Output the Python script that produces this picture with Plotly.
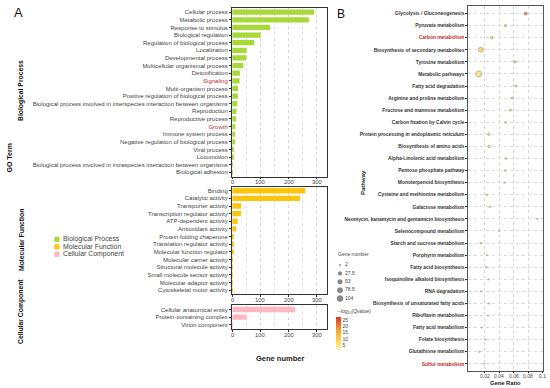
import plotly.graph_objects as go
import numpy as np

W, H = 550, 388
FONT = "Liberation Sans, Arial, sans-serif"
RED = "#c62828"

# ---------------- Panel A data ----------------
bp_terms = ["Cellular process", "Metabolic process", "Response to stimulus", "Biological regulation",
            "Regulation of biological process", "Localization", "Developmental process",
            "Multicellular organismal process", "Detoxification", "Signaling", "Multi-organism process",
            "Positive regulation of biological process",
            "Biological process involved in interspecies interaction between organisms",
            "Reproduction", "Reproductive process", "Growth", "Immune system process",
            "Negative regulation of biological process", "Viral process", "Locomotion",
            "Biological process involved in intraspecies interaction between organisms",
            "Biological adhesion"]
bp_counts = [292, 273, 134, 101, 78, 51, 50, 39, 27, 26, 21, 20, 18, 15, 13, 11, 10, 10, 5, 2, 1, 1]

mf_terms = ["Binding", "Catalytic activity", "Transporter activity", "Transcription regulator activity",
            "ATP-dependent activity", "Antioxidant activity", "Protein folding chaperone",
            "Translation regulator activity", "Molecular function regulator", "Molecular carrier activity",
            "Structural molecule activity", "Small molecule sensor activity", "Molecular adaptor activity",
            "Cytoskeletal motor activity"]
mf_counts = [260, 241, 32, 31, 19, 14, 3, 3, 4, 1, 1, 1, 1, 1]

cc_terms = ["Cellular anatomical entity", "Protein-containing complex", "Virion component"]
cc_counts = [223, 51, 1]

red_terms = ["Signaling", "Growth"]
go_groups = ["Biological Process", "Molecular Function", "Cellular Component"]
go_colors = ["#a8d93a", "#fcc60f", "#ffb8c0"]
gene_ticks = [0, 100, 200, 300]

# ---------------- Panel B data ----------------
pathways = ["Glycolysis / Gluconeogenesis", "Pyruvate metabolism", "Carbon metabolism",
            "Biosynthesis of secondary metabolites", "Tyrosine metabolism", "Metabolic pathways",
            "Fatty acid degradation", "Arginine and proline metabolism", "Fructose and mannose metabolism",
            "Carbon fixation by Calvin cycle", "Protein processing in endoplasmic reticulum",
            "Biosynthesis of amino acids", "Alpha-Linolenic acid metabolism", "Pentose phosphate pathway",
            "Monoterpenoid biosynthesis", "Cysteine and methionine metabolism", "Galactose metabolism",
            "Neomycin, kanamycin and gentamicin biosynthesis", "Selenocompound metabolism",
            "Starch and sucrose metabolism", "Porphyrin metabolism", "Fatty acid biosynthesis",
            "Isoquinoline alkaloid biosynthesis", "RNA degradation",
            "Biosynthesis of unsaturated fatty acids", "Riboflavin metabolism", "Fatty acid metabolism",
            "Folate biosynthesis", "Glutathione metabolism", "Sulfur metabolism"]
gene_ratio = [0.077, 0.049, 0.030, 0.015, 0.062, 0.012, 0.063, 0.058, 0.0556, 0.049,
              0.026, 0.0266, 0.0497, 0.0487, 0.0473, 0.023, 0.0276, 0.093, 0.0404, 0.015,
              0.023, 0.0225, 0.0258, 0.0152, 0.0266, 0.0248, 0.0161, 0.0211, 0.0128, 0.0193]
gene_count = [13, 6, 8, 60, 4, 104, 4, 4, 4, 4, 6, 7, 3, 3, 2, 3, 3, 2, 2, 3,
              2, 2, 2, 2, 2, 2, 2, 2, 2, 2]
neg_log_q = [27, 12, 11, 10, 9, 8.5, 8, 7.5, 7, 6.5, 6, 6, 5.5, 5.5, 5, 5, 4.5, 4.5, 4, 4,
             3.8, 3.6, 3.4, 3.2, 3, 2.9, 2.8, 2.7, 2.6, 2.5]
red_pathways = ["Carbon metabolism", "Sulfur metabolism"]
size_legend_vals = [2, 27.5, 53, 78.5, 104]
q_ticks = [5, 10, 15, 20, 25]
ratio_ticks = [0.02, 0.04, 0.06, 0.08, 0.1]
ratio_labels = ["0.02", "0.04", "0.06", "0.08", "0.1"]


def fx(px):
    return px / W


def fy(py):
    return 1 - py / H


def size_px(n):
    n = np.asarray(n, dtype=float)
    return 1.5 + 4.6 * np.sqrt((n - 2) / 102.0)


def lab(t, reds):
    return f"<span style='color:{RED}'>{t}</span>" if t in reds else t


fig = go.Figure()
layout = dict(width=W, height=H, margin=dict(l=0, r=0, t=0, b=0),
              paper_bgcolor="white", plot_bgcolor="rgba(0,0,0,0)", showlegend=False,
              font=dict(family=FONT, color="#333"))

# panel A layout in pixels (top, bottom)
panels = [(8, 176.5), (186.5, 294.3), (305.3, 329)]
strip_centers = [91, 240, 312]
groups = [(bp_terms, bp_counts), (mf_terms, mf_counts), (cc_terms, cc_counts)]
annotations = []
shapes = []

for i, ((terms, counts), (top, bot), col) in enumerate(zip(groups, panels, go_colors)):
    xa = "x" if i == 0 else f"x{i+1}"
    ya = "y" if i == 0 else f"y{i+1}"
    n = len(terms)
    fig.add_trace(go.Bar(x=counts, y=list(range(n)), orientation="h", width=0.7,
                         marker=dict(color=col, line=dict(width=0)),
                         xaxis=xa, yaxis=ya, hoverinfo="x+y"))
    xkey = "xaxis" if i == 0 else f"xaxis{i+1}"
    ykey = "yaxis" if i == 0 else f"yaxis{i+1}"
    layout[xkey] = dict(domain=[fx(231.8), fx(327.3)], range=[-1.8, 338], anchor=ya,
                        tickvals=gene_ticks, ticks="outside", ticklen=2, tickwidth=0.6,
                        tickcolor="#333", showticklabels=False,
                        showline=True, mirror=True, linecolor="#333", linewidth=0.7,
                        showgrid=True, gridcolor="#d6d6d6", griddash="dot", gridwidth=0.6,
                        minor=dict(dtick=50, showgrid=True, gridcolor="#e2e2e2", griddash="dot",
                                   gridwidth=0.5),
                        zeroline=False)
    layout[ykey] = dict(domain=[fy(bot), fy(top)], range=[n - 1 + 0.55, -0.55], anchor=xa,
                        tickvals=list(range(n)), ticktext=[lab(t, red_terms) for t in terms],
                        ticks="outside", ticklen=2, tickwidth=0.6, tickcolor="#333",
                        tickfont=dict(size=6, color="#444"), showgrid=False,
                        showline=True, mirror=True, linecolor="#333", linewidth=0.7,
                        zeroline=False)
    for t in gene_ticks:
        annotations.append(dict(text=str(t), x=t, xref=xa, y=fy(bot + 5.6), yref="paper",
                                showarrow=False, font=dict(size=5.8, color="#444")))
    annotations.append(dict(text=f"<b>{go_groups[i]}</b>", x=fx(21), y=fy(strip_centers[i]),
                            showarrow=False, textangle=-90,
                            font=dict(size=6.8, color="#111")))

# legend A
for i, (g, c) in enumerate(zip(go_groups, go_colors)):
    yc = 239.3 + i * 7.5
    shapes.append(dict(type="rect", xref="paper", yref="paper", x0=fx(54.3), x1=fx(59.5),
                       y0=fy(yc + 2.6), y1=fy(yc - 2.6), fillcolor=c, line=dict(width=0)))
    annotations.append(dict(text=g, x=fx(60.5), y=fy(yc), xanchor="left", showarrow=False,
                            font=dict(size=6.9, color="#444")))

annotations += [
    dict(text="A", x=fx(12), y=fy(12.5), xanchor="left", showarrow=False,
         font=dict(size=13, color="#111")),
    dict(text="<b>GO Term</b>", x=fx(8.5), y=fy(158), textangle=-90, showarrow=False,
         font=dict(size=7, color="#111")),
    dict(text="<b>Gene number</b>", x=fx(279.7), y=fy(358.7), showarrow=False,
         font=dict(size=7.5, color="#222")),
]

# ---------------- Panel B ----------------
colorscale = [[0, "#fff3b8"], [0.3, "#f8d54e"], [0.6, "#f5a332"], [1, "#db3a26"]]
npw = len(pathways)
fig.add_trace(go.Scatter(
    x=gene_ratio, y=list(range(npw)), mode="markers", xaxis="x4", yaxis="y4",
    marker=dict(size=size_px(gene_count), color=neg_log_q, colorscale=colorscale,
                cmin=1, cmax=27.2, line=dict(width=0.5, color="#5f5a30"),
                colorbar=dict(x=fx(336), xanchor="left", y=fy(333.7), yanchor="middle",
                              len=32.7 / H, lenmode="fraction", thickness=4.5, outlinewidth=0,
                              xpad=0, ypad=0, tickvals=q_ticks, ticks="",
                              tickfont=dict(size=5, color="#444"))),
    text=pathways, hoverinfo="x+text"))

layout["xaxis4"] = dict(domain=[fx(467.7), fx(543)], range=[-0.0032, 0.1007], anchor="y4",
                        tickvals=ratio_ticks, ticks="outside", ticklen=1.5,
                        tickwidth=0.5, tickcolor="#333", showticklabels=False,
                        showline=True, mirror=True, linecolor="#555", linewidth=0.6,
                        showgrid=True, gridcolor="#d8d8d8", griddash="dot", gridwidth=0.5,
                        zeroline=False)
layout["yaxis4"] = dict(domain=[fy(370.5), fy(6.3)], range=[npw - 1 + 0.55, -0.6], anchor="x4",
                        tickvals=list(range(npw)),
                        ticktext=[f"<b>{lab(p, red_pathways)}</b>" for p in pathways],
                        ticks="outside", ticklen=1.5, tickwidth=0.5, tickcolor="#333",
                        tickfont=dict(size=4.9, color="#333"),
                        showline=True, mirror=True, linecolor="#555", linewidth=0.6,
                        showgrid=True, gridcolor="#dcdcdc", griddash="dot", gridwidth=0.5,
                        zeroline=False)
for v, t in zip(ratio_ticks, ratio_labels):
    annotations.append(dict(text=t, x=v, xref="x4", y=fy(375.6), yref="paper",
                            showarrow=False, font=dict(size=5, color="#444")))

# size legend (overlay axis in pixel units)
leg_y = [265 + 8.4 * i for i in range(len(size_legend_vals))]
fig.add_trace(go.Scatter(x=[340] * len(size_legend_vals), y=leg_y, mode="markers",
                         xaxis="x5", yaxis="y5", hoverinfo="skip",
                         marker=dict(size=size_px(size_legend_vals), color="#555",
                                     line=dict(width=0.3, color="#333"))))
fig.add_trace(go.Scatter(x=[345] * len(size_legend_vals), y=leg_y, mode="text",
                         text=[f"{v:g}" for v in size_legend_vals], textposition="middle right",
                         xaxis="x5", yaxis="y5", hoverinfo="skip",
                         textfont=dict(size=5, color="#444", family=FONT)))
layout["xaxis5"] = dict(domain=[fx(330), fx(400)], range=[330, 400], visible=False, anchor="y5",
                        fixedrange=True)
layout["yaxis5"] = dict(domain=[fy(305), fy(258)], range=[305, 258], visible=False, anchor="x5",
                        fixedrange=True)

annotations += [
    dict(text="B", x=fx(334.5), y=fy(14), xanchor="left", showarrow=False,
         font=dict(size=12, color="#111")),
    dict(text="<b>Pathway</b>", x=fx(363), y=fy(183), textangle=-90, showarrow=False,
         font=dict(size=6, color="#222")),
    dict(text="<b>Gene Ratio</b>", x=fx(505.5), y=fy(382.6), showarrow=False,
         font=dict(size=5.8, color="#222")),
    dict(text="Gene number", x=fx(336), y=fy(254), xanchor="left", showarrow=False,
         font=dict(size=5, color="#444")),
    dict(text="\u2212log<sub>10</sub>(Qvalue)", x=fx(336), y=fy(311.5), xanchor="left",
         showarrow=False, font=dict(size=5, color="#444")),
]
for a in annotations:
    a.setdefault("xref", "paper")
    a.setdefault("yref", "paper")
    a.setdefault("xanchor", "center")
    a.setdefault("yanchor", "middle")

layout["annotations"] = annotations
layout["shapes"] = shapes
fig.update_layout(**layout)
fig.write_html("out.html", config={"displayModeBar": False},
               post_script="document.body.style.margin='0';document.body.style.padding='0';")
